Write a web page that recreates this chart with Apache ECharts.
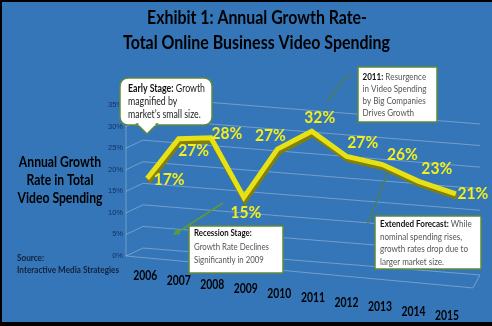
<!DOCTYPE html>
<html><head><meta charset="utf-8">
<script src="https://cdn.jsdelivr.net/npm/echarts@6/dist/echarts.min.js"></script>
<style>html,body{margin:0;padding:0;background:#000}#c{width:492px;height:326px}</style>
</head><body><div id="c"></div>
<script>
// ---------- data ----------
const years = ['2006','2007','2008','2009','2010','2011','2012','2013','2014','2015'];
const growth = [17, 27, 28, 15, 27, 32, 27, 26, 23, 21];
const yTicks = [0, 5, 10, 15, 20, 25, 30, 35];
const titleLines = ['Exhibit 1: Annual Growth Rate-', 'Total Online Business Video Spending'];
const axisTitleLines = ['Annual Growth', 'Rate in Total', 'Video Spending'];
const sourceLines = ['Source:', 'Interactive Media Strategies'];

// ---------- layout / style (not data) ----------
const labelOffsets = [[22,1],[15,12],[16,-4],[2,15],[-7,-14],[8,-14],[16,-14],[20,-10],[18,-13],[17,-1]];
const LINE_DY = -6, LINE_SLOPE = 0.106, WARP = -28;
const WALL_DX = 13, WALL_DY = 8, WALL_LEN = 350, WALL_SLOPE = 0.08;
const FONT = 'Lato';

const ctx = document.createElement('canvas').getContext('2d');
function measure(t, size, bold, fam) { ctx.font = (bold ? 'bold ' : '') + size + 'px ' + (fam || FONT); return ctx.measureText(t).width; }
function segWidth(segs, size) { return segs.reduce((s, g) => s + measure(g.t, size, g.b), 0); }
function richText(segs) { return segs.map(g => g.b ? '{b|' + g.t + '}' : '{n|' + g.t + '}').join(''); }
function textEl(x, y, segs, size, scale, align, color, boldColor, z) {
  return {
    type: 'text', x: x, y: y, scaleX: scale, z: z || 10, silent: true,
    style: {
      text: richText(segs), align: align, verticalAlign: 'middle',
      fontFamily: FONT, fontSize: size,
      rich: {
        b: { fontWeight: 'bold', fill: boldColor || color, fontFamily: FONT, fontSize: size },
        n: { fontWeight: 'normal', fill: color, fontFamily: FONT, fontSize: size }
      }
    }
  };
}
function block(lines, x, y0, lh, size, refIdx, target, align, color, boldColor) {
  const sc = target / segWidth(lines[refIdx], size);
  return lines.map((segs, k) => textEl(x, y0 + k * lh, segs, size, sc, align, color, boldColor));
}

function proj(params, api, i, v) {
  const p = api.coord([i, v]);
  const c0 = api.coord([0, 0])[0], c9 = api.coord([years.length - 1, 0])[0];
  const t = (p[0] - c0) / (c9 - c0);
  const x = p[0] + WARP * t * (1 - t);
  const y = p[1] + LINE_DY + LINE_SLOPE * (x - params.coordSys.x);
  return [x, y];
}

const dataLabelScale = 30 / measure('17%', 17, true);
const yearScale = 24 / measure('2006', 13.5, true);

const wallSeries = {
  type: 'custom', clip: false, silent: true, z: 1,
  data: yTicks.map(v => [0, v]),
  renderItem: function (params, api) {
    const cs = params.coordSys, L = cs.x;
    const v = api.value(1);
    const y = api.coord([0, v])[1];
    const st = { stroke: 'rgba(178,198,222,0.5)', lineWidth: 1 };
    const bx = L + WALL_DX, by = y - WALL_DY;
    const ch = [
      { type: 'line', shape: { x1: L - 4, y1: y, x2: bx, y2: by }, style: st },
      { type: 'line', shape: { x1: bx, y1: by, x2: L + WALL_LEN, y2: by + WALL_SLOPE * (WALL_LEN - WALL_DX) }, style: st }
    ];
    if (v === 0) {
      const yTop = api.coord([0, yTicks[yTicks.length - 1]])[1];
      const fx = L + cs.width, fy = y + 0.092 * (cs.width + 4);
      ch.push({ type: 'line', shape: { x1: L - 4, y1: yTop, x2: L - 4, y2: y }, style: st });
      ch.push({ type: 'line', shape: { x1: L - 4, y1: y, x2: fx, y2: fy }, style: st });
      ch.push({ type: 'line', shape: { x1: fx, y1: fy, x2: L + WALL_LEN, y2: by + WALL_SLOPE * (WALL_LEN - WALL_DX) }, style: st });
    }
    return { type: 'group', children: ch };
  }
};

const lineSeries = {
  type: 'custom', clip: false, silent: true, z: 3,
  data: growth.map((v, i) => [i, v]),
  renderItem: function (params, api) {
    const i = api.value(0), v = api.value(1);
    const ch = [];
    if (params.dataIndex === 0) {
      const pts = growth.map((g, j) => proj(params, api, j, g));
      ch.push({ type: 'polyline', shape: { points: pts.map(p => [p[0] + 1.2, p[1] + 3]) },
        style: { stroke: '#858005', lineWidth: 5.5, fill: null, lineJoin: 'miter', miterLimit: 10 } });
      ch.push({ type: 'polyline', shape: { points: pts },
        style: { stroke: '#E6E216', lineWidth: 5, fill: null, lineJoin: 'miter', miterLimit: 10 } });
    }
    const p = proj(params, api, i, v);
    const off = labelOffsets[i];
    ch.push({ type: 'text', x: p[0] + off[0], y: p[1] + off[1], scaleX: dataLabelScale, z2: 5,
      style: { text: v + '%', align: 'center', verticalAlign: 'middle', fill: '#F3EF1C',
        fontFamily: FONT, fontWeight: 'bold', fontSize: 17.5 } });
    // year label on the floor
    const base = api.coord([i, 0]);
    const c0 = api.coord([0, 0])[0];
    const xl = c0 - 2 + (base[0] - c0) * 0.978;
    const yl = base[1] + 20 + (xl - c0) * 0.1325;
    ch.push({ type: 'text', x: xl, y: yl, scaleX: yearScale,
      style: { text: years[i], align: 'center', verticalAlign: 'middle', fill: '#000',
        fontFamily: FONT, fontWeight: 'bold', fontSize: 13.5 } });
    return { type: 'group', children: ch };
  }
};

const boxStroke = '#5E8A3C', connColor = '#4E7D5B';
const graphics = [
  { type: 'rect', shape: { x: 0, y: 0, width: 2, height: 326 }, style: { fill: '#000' }, z: 20 },
  { type: 'rect', shape: { x: 0, y: 0, width: 492, height: 2 }, style: { fill: '#000' }, z: 20 },
  { type: 'rect', shape: { x: 0, y: 322, width: 492, height: 4 }, style: { fill: '#000' }, z: 20 },
  // Early stage callout
  { type: 'rect', shape: { x: 120, y: 78, width: 92, height: 47, r: 8 }, style: { fill: '#fff', stroke: boxStroke, lineWidth: 1.5 }, z: 8 },
  { type: 'polygon', shape: { points: [[137, 124], [147, 134], [157, 124]] }, style: { fill: '#fff', stroke: boxStroke, lineWidth: 1.5 }, z: 8 },
  { type: 'line', shape: { x1: 138.5, y1: 124.2, x2: 155.5, y2: 124.2 }, style: { stroke: '#fff', lineWidth: 2.5 }, z: 9 },
  // 2011 callout
  { type: 'polyline', shape: { points: [[352, 76], [346, 76], [327, 102]] }, style: { stroke: connColor, lineWidth: 1.5, fill: null }, z: 8 },
  { type: 'rect', shape: { x: 358, y: 67, width: 79, height: 55 }, style: { fill: '#fff', stroke: boxStroke, lineWidth: 1.5 }, z: 8 },
  // Recession callout
  { type: 'line', shape: { x1: 223, y1: 203, x2: 178, y2: 232 }, style: { stroke: '#5A9A3A', lineWidth: 1.8 }, z: 8 },
  { type: 'polygon', shape: { points: [[173, 235], [180.8, 234.1], [177, 228.3]] }, style: { fill: '#5A9A3A' }, z: 8 },
  { type: 'rect', shape: { x: 189, y: 226, width: 94, height: 47 }, style: { fill: '#fff', stroke: boxStroke, lineWidth: 1.5 }, z: 8 },
  // Extended forecast callout
  { type: 'line', shape: { x1: 388, y1: 172, x2: 367, y2: 225 }, style: { stroke: connColor, lineWidth: 1.5 }, z: 8 },
  { type: 'rect', shape: { x: 375, y: 216, width: 106, height: 53 }, style: { fill: '#fff', stroke: boxStroke, lineWidth: 1.5 }, z: 8 }
];

const titleSegs = titleLines.map(t => [{ t: t, b: true }]);
graphics.push(textEl(257, 18, titleSegs[0], 18.5, 220 / segWidth(titleSegs[0], 18.5), 'center', '#000'));
graphics.push(textEl(256.5, 43, titleSegs[1], 18.5, 267 / segWidth(titleSegs[1], 18.5), 'center', '#000'));
graphics.push(...block(axisTitleLines.map(t => [{ t: t, b: true }]), 60, 162, 18, 15, 2, 85, 'center', '#000'));
graphics.push(...block(sourceLines.map(t => [{ t: t, b: true }]), 17, 258, 12, 9.5, 1, 102, 'left', '#14213D'));
graphics.push(...block([
  [{ t: 'Early Stage:', b: true }, { t: ' Growth', b: false }],
  [{ t: 'magnified by', b: false }],
  [{ t: 'market\u2019s small size.', b: false }]
], 128, 89, 13, 10.5, 0, 77, 'left', '#222', '#111'));
graphics.push(...block([
  [{ t: '2011:', b: true }, { t: ' Resurgence', b: false }],
  [{ t: 'in Video Spending', b: false }],
  [{ t: 'by Big Companies', b: false }],
  [{ t: 'Drives Growth', b: false }]
], 362.5, 77, 12, 9, 1, 64, 'left', '#555', '#111'));
graphics.push(...block([
  [{ t: 'Recession Stage:', b: true }],
  [{ t: 'Growth Rate Declines', b: false }],
  [{ t: 'Significantly in 2009', b: false }]
], 194, 233, 13.5, 10, 1, 75, 'left', '#555', '#111'));
graphics.push(...block([
  [{ t: 'Extended Forecast:', b: true }, { t: ' While', b: false }],
  [{ t: 'nominal spending rises,', b: false }],
  [{ t: 'growth rates drop due to', b: false }],
  [{ t: 'larger market size.', b: false }]
], 380, 224, 12.7, 9.5, 2, 88, 'left', '#555', '#111'));

const chart = echarts.init(document.getElementById('c'));
chart.setOption({
  backgroundColor: '#3476B8',
  animation: false,
  grid: { left: 130, top: 105, width: 343, height: 151 },
  xAxis: { type: 'category', data: years, boundaryGap: true, show: false },
  yAxis: {
    type: 'value', min: 0, max: 35, interval: 5,
    axisLine: { show: false }, axisTick: { show: false }, splitLine: { show: false },
    axisLabel: { formatter: v => v + '%', color: '#172F66', fontSize: 7.5, margin: 7, fontFamily: 'Liberation Sans Narrow, Liberation Sans' }
  },
  series: [wallSeries, lineSeries],
  graphic: { elements: graphics }
});
</script>
</body></html>
